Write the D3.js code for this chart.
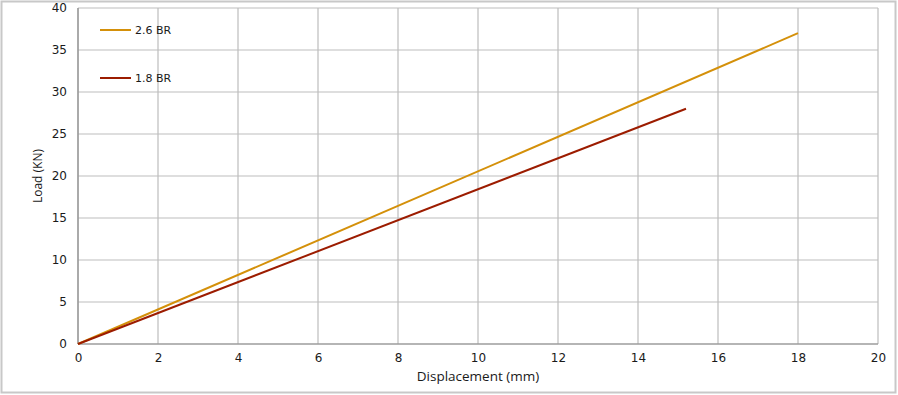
<!DOCTYPE html>
<html>
<head>
<meta charset="utf-8">
<script src="https://cdn.jsdelivr.net/npm/d3@7"></script>
<style>
  body { margin: 0; background: #fff; }
  svg { display: block; }
</style>
</head>
<body>
<div id="chart"></div>
<script>
// series: displacement (mm) vs load (KN)
const seriesNames = ['2.6 BR', '1.8 BR'];
const seriesColors = ['#D4900A', '#9C1C00'];
const disp26 = [0, 18];
const load26 = [0, 37];
const disp18 = [0, 15.2];
const load18 = [0, 28];
const xTicks = [0, 2, 4, 6, 8, 10, 12, 14, 16, 18, 20];
const yTicks = [0, 5, 10, 15, 20, 25, 30, 35, 40];

const W = 898, H = 395;
const margin = { top: 8, right: 20, bottom: 51, left: 78 };
const width = W - margin.left - margin.right;
const height = H - margin.top - margin.bottom;

const svg = d3.select('#chart').append('svg')
  .attr('width', W).attr('height', H);

// outer frame
svg.append('rect')
  .attr('x', 1.5).attr('y', 1.5)
  .attr('width', W - 4).attr('height', H - 4)
  .attr('fill', '#fff').attr('stroke', '#c8c8c8').attr('stroke-width', 2);

const g = svg.append('g')
  .attr('transform', 'translate(' + margin.left + ',' + margin.top + ')');

const x = d3.scaleLinear().domain([0, 20]).range([0, width]);
const y = d3.scaleLinear().domain([0, 40]).range([height, 0]);

// grid
g.append('g').selectAll('line').data(xTicks).enter().append('line')
  .attr('x1', d => x(d)).attr('x2', d => x(d))
  .attr('y1', 0).attr('y2', height)
  .attr('stroke', '#bdbdbd').attr('stroke-width', 1.2);
g.append('g').selectAll('line').data(yTicks).enter().append('line')
  .attr('x1', 0).attr('x2', width)
  .attr('y1', d => y(d)).attr('y2', d => y(d))
  .attr('stroke', '#bdbdbd').attr('stroke-width', 1.2);

// axes
const xAxis = g.append('g')
  .attr('transform', 'translate(0,' + height + ')')
  .call(d3.axisBottom(x).tickValues(xTicks).tickSize(0).tickPadding(9));
const yAxis = g.append('g')
  .call(d3.axisLeft(y).tickValues(yTicks).tickSize(0).tickPadding(11));
[xAxis, yAxis].forEach(a => {
  a.select('.domain').attr('stroke', '#8c8c8c').attr('stroke-width', 1.2);
  a.selectAll('text')
    .attr('font-family', 'DejaVu Sans, Verdana, sans-serif')
    .attr('font-size', 12).attr('fill', '#1a1a1a');
});
yAxis.select('.domain').attr('d', 'M0,0V' + height);
xAxis.select('.domain').attr('d', 'M0,0H' + width);

// axis titles
svg.append('text')
  .attr('x', margin.left + width / 2).attr('y', 381)
  .attr('text-anchor', 'middle')
  .attr('font-family', 'Open Sans, sans-serif').attr('font-size', 13.5)
  .attr('fill', '#1a1a1a')
  .text('Displacement (mm)');
svg.append('text')
  .attr('transform', 'translate(42,' + (margin.top + height / 2) + ') rotate(-90)')
  .attr('text-anchor', 'middle')
  .attr('font-family', 'Open Sans, sans-serif').attr('font-size', 12)
  .attr('fill', '#1a1a1a')
  .text('Load (KN)');

// lines
const series = [
  disp26.map((d, i) => ({ x: d, y: load26[i] })),
  disp18.map((d, i) => ({ x: d, y: load18[i] }))
];
const line = d3.line().x(d => x(d.x)).y(d => y(d.y));
series.forEach((s, i) => {
  g.append('path').datum(s)
    .attr('d', line)
    .attr('fill', 'none')
    .attr('stroke', seriesColors[i])
    .attr('stroke-width', 2);
});

// legend
const legend = svg.append('g');
seriesNames.forEach((name, i) => {
  const ly = 30 + i * 48;
  legend.append('line')
    .attr('x1', 100).attr('x2', 131).attr('y1', ly).attr('y2', ly)
    .attr('stroke', seriesColors[i]).attr('stroke-width', 2);
  legend.append('text')
    .attr('x', 135).attr('y', ly + 4)
    .attr('font-family', 'DejaVu Sans, Verdana, sans-serif').attr('font-size', 11)
    .attr('fill', '#1a1a1a')
    .text(name);
});
</script>
</body>
</html>
